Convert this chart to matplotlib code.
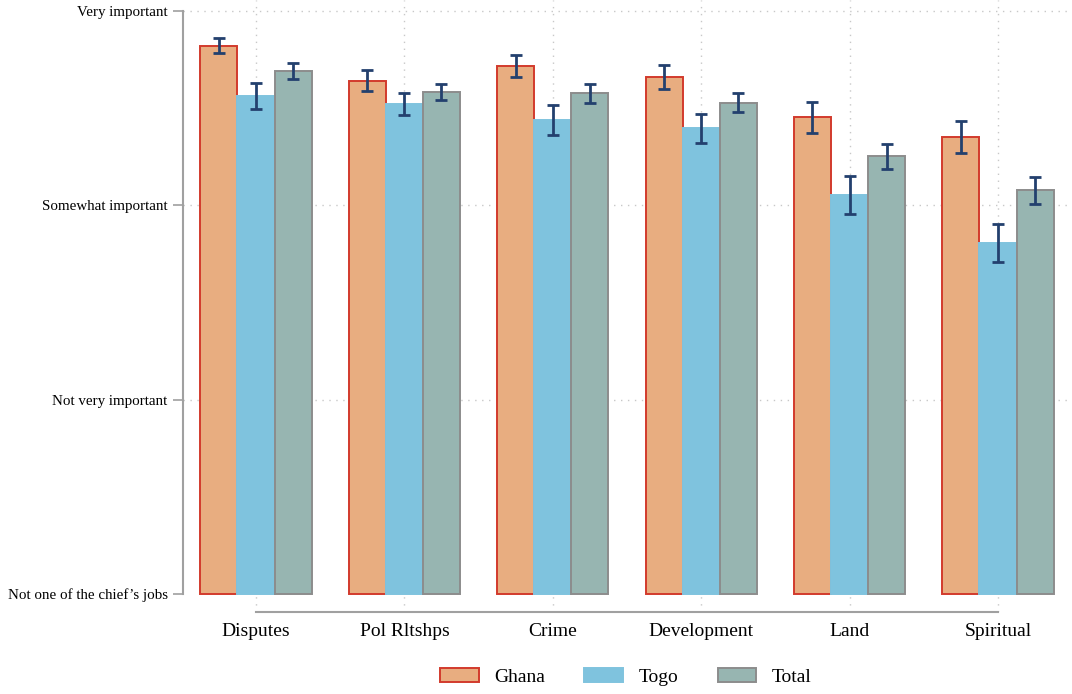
import numpy as np
import matplotlib.pyplot as plt

plt.rcParams['font.family'] = ['Liberation Serif', 'DejaVu Serif']

# mean importance ratings (0 = not one of the chief's jobs ... 3 = very important)
categories = ["Disputes", "Pol Rltshps", "Crime", "Development", "Land", "Spiritual"]
ghana = [2.822, 2.641, 2.717, 2.660, 2.453, 2.352]
togo = [2.563, 2.523, 2.439, 2.396, 2.055, 1.806]
total = [2.691, 2.583, 2.577, 2.527, 2.252, 2.077]

# 95% confidence interval half-widths
ghana_ci = [0.040, 0.054, 0.056, 0.060, 0.080, 0.083]
togo_ci = [0.067, 0.057, 0.075, 0.075, 0.098, 0.099]
total_ci = [0.040, 0.041, 0.048, 0.049, 0.064, 0.068]

ytick_labels = ["Not one of the chief\u2019s jobs", "Not very important",
                "Somewhat important", "Very important"]

fig = plt.figure(figsize=(10.72, 6.94), dpi=100)
ax = fig.add_axes([183 / 1072, 82 / 694, 1 - 183 / 1072, 1 - 82 / 694])

x = np.arange(len(categories))
w = 0.25
series = [
    ("Ghana", ghana, ghana_ci, -w, "#E8AD80", "#D23A2C"),
    ("Togo", togo, togo_ci, 0.0, "#7FC3DE", "#7FC3DE"),
    ("Total", total, total_ci, w, "#97B5B1", "#8C8C8C"),
]
for name, vals, ci, off, fc, ec in series:
    ax.bar(x + off, vals, width=w, color=fc, edgecolor=ec, linewidth=1.4,
           label=name, zorder=2)
    ax.errorbar(x + off, vals, yerr=ci, fmt="none", ecolor="#23406E",
                elinewidth=2, capsize=4.5, capthick=2, zorder=3)

ax.set_xlim(-0.492, 5.499)
ax.set_ylim(-0.093, 3.057)
ax.set_yticks([0, 1, 2, 3])
ax.set_yticklabels(ytick_labels, fontsize=10.8)
ax.set_xticks(x)
ax.set_xticklabels(categories, fontsize=14)

ax.grid(True, color="#C8C8C8", linestyle=(0, (1, 4)), linewidth=1, zorder=0)
ax.set_axisbelow(True)
# no gridline along the baseline
ax.yaxis.get_gridlines()[0].set_visible(False)

for s in ["top", "right"]:
    ax.spines[s].set_visible(False)
ax.spines["left"].set_bounds(0, 3)
ax.spines["bottom"].set_bounds(0, 5)
for s in ["left", "bottom"]:
    ax.spines[s].set_color("#A0A0A0")
    ax.spines[s].set_linewidth(1.5)
ax.tick_params(axis="y", length=7, width=1.2, color="#A0A0A0", pad=4)
ax.tick_params(axis="x", length=0, pad=8)

fig.legend(loc="center", bbox_to_anchor=(626 / 1072, 1 - 677 / 694), ncol=3,
           frameon=False, fontsize=14, handlelength=2.0, handleheight=0.77,
           handletextpad=0.8, columnspacing=2.0)

fig.savefig("out.png", dpi=100)
